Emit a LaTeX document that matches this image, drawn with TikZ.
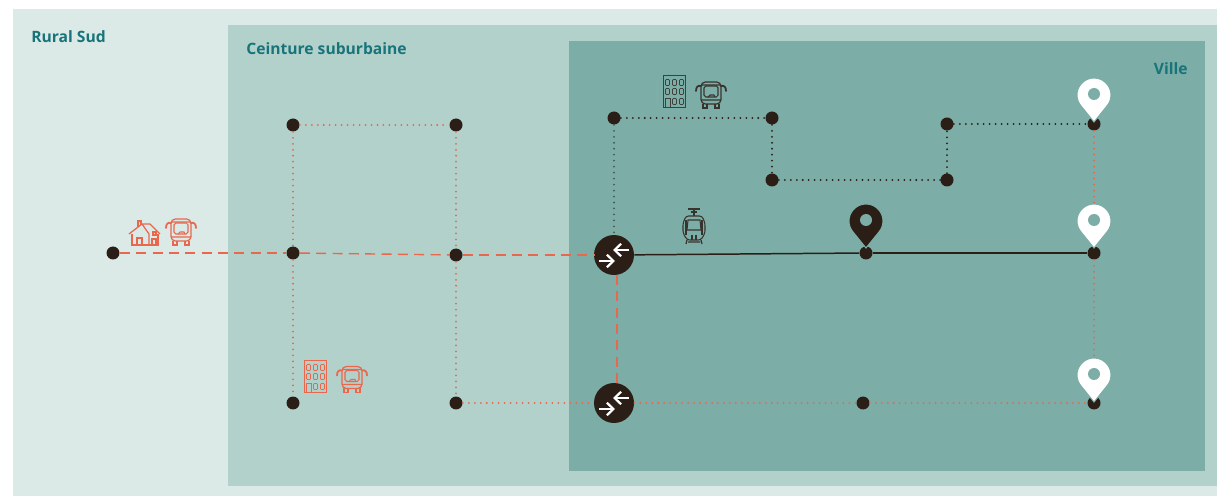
\documentclass[tikz,border=0pt]{standalone}
\usepackage{fontspec}
\setmainfont{Open Sans}
\usetikzlibrary{arrows.meta, positioning}
\definecolor{ruralbg}{HTML}{DBE9E7}
\definecolor{ceinturebg}{HTML}{B3D1CB}
\definecolor{villebg}{HTML}{7DADA7}
\definecolor{titlecol}{HTML}{17747A}
\definecolor{darkcol}{HTML}{2A1E17}
\definecolor{orangecol}{HTML}{E9674C}

\begin{document}
\begin{tikzpicture}[
    x=0.02cm, y=-0.02cm,
    dot/.style={circle, fill=darkcol, inner sep=0pt, minimum size=0.26cm},
    hub/.style={circle, fill=darkcol, inner sep=0pt, minimum size=0.8cm},
    zone/.style={font=\bfseries\fontsize{8.9}{10}\selectfont, text=titlecol, inner sep=0pt},
    dotline/.style={line width=1.15pt, line cap=round, dash pattern=on 0pt off 3.4pt},
    dashline/.style={orangecol, line width=0.8pt, dash pattern=on 5.7pt off 3.6pt},
    bus/.pic={
        \draw[line width=0.7pt, rounded corners=2.5pt] (-10,-13) rectangle (10,9);
        \draw[line width=0.6pt, rounded corners=1pt] (-7,-9) rectangle (7,2);
        \draw[line width=0.6pt] (-10,-10) -- (10,-10) (-10,5) -- (10,5) (-3,2) -- (-1,0) -- (3,0) -- (4,2);
        \draw[line width=1pt, line cap=round] (-10,-9) .. controls (-13,-10) and (-15,-8) .. (-15,-4)
            (10,-9) .. controls (13,-10) and (15,-8) .. (15,-4);
        \draw[line width=0.7pt] (-8,9) -- (-8,13) -- (-4,13) -- (-4,9) (8,9) -- (8,13) -- (4,13) -- (4,9);
    },
    block/.pic={
        \draw[line width=0.8pt] (-11,-16) rectangle (11,16);
        \foreach \i in {-7,0,7} \foreach \j in {-9,0} {
            \draw[line width=0.45pt, rounded corners=0.5pt] (\i-2,\j-3) rectangle (\i+2,\j+3);
        }
        \draw[line width=0.45pt] (-9,16) -- (-9,7) -- (-4,7) -- (-4,16);
        \draw[line width=0.45pt, rounded corners=0.5pt] (-2,7) rectangle (2,13) (5,7) rectangle (9,13);
    },
    home/.pic={
        \draw[line width=0.7pt] (-13,1) -- (-13,12) -- (13,12) -- (13,1);
        \draw[line width=0.7pt] (-16,1) -- (-3,-9) -- (5,-9) -- (15,1) (-3,-9) -- (4,1) -- (4,12);
        \draw[line width=0.7pt] (-7,-6) -- (-7,-12) -- (-4,-12) -- (-4,-8);
        \draw[line width=0.7pt] (-8,12) -- (-8,5) -- (-3,5) -- (-3,12);
        \draw[line width=0.7pt] (7,12) -- (7,6) -- (11,6) -- (11,12) (8,-1) rectangle (11,2);
    },
    tram/.pic={
        \draw[line width=0.6pt, rounded corners=1.5pt] (-8,-11) -- (8,-11) -- (11,-4) -- (11,6) -- (7,13) -- (-7,13) -- (-11,6) -- (-11,-4) -- cycle;
        \draw[line width=0.6pt] (-6,-7) -- (6,-7) -- (7,3) -- (-7,3) -- cycle;
        \draw[line width=0.6pt] (-8,-7) -- (-8,8) (8,-7) -- (8,8) (-2,8) -- (-2,13) (2,8) -- (2,13);
        \draw[line width=0.8pt] (-6,-18) -- (6,-18) (-3,-15) -- (3,-15) (0,-18) -- (0,-11);
        \draw[line width=0.7pt] (-7,13) -- (-8,17) (7,13) -- (8,17) (-6,15) -- (6,15);
    },
    pin/.pic={
        \path[fill=#1, draw=villebg, line width=0.6pt] (0,0) -- (13.2,-16.3) arc[start angle=39, end angle=-219, radius=17] -- cycle;
        \fill[villebg] (0,-28) circle[radius=6];
    },
    swap/.pic={
        \draw[white, line width=1.25pt, -{Straight Barb[length=1.3mm, width=2.5mm]}] (15,-5) -- (-1,-5);
        \draw[white, line width=1.25pt, -{Straight Barb[length=1.3mm, width=2.5mm]}] (-15,6) -- (1,6);
    }
]
\useasboundingbox (0,0) rectangle (1217,496);

% Zones
\fill[ruralbg] (13,9) rectangle (1217,496);
\fill[ceinturebg] (228,25) rectangle (1217,486);
\fill[villebg] (569,41) rectangle (1205,471);

\node[zone, anchor=west] (rural) at (31,37) {Rural Sud};
\node[zone, anchor=west] (ceinture) at (246,49) {Ceinture suburbaine};
\node[zone, anchor=east] (ville) at (1188,69) {Ville};

% Stops
\node[dot] (start) at (113,253) {};
\node[dot] (a1) at (293,125) {};
\node[dot] (a2) at (293,253) {};
\node[dot] (a3) at (293,403) {};
\node[dot] (b1) at (456,125) {};
\node[dot] (b2) at (456,255) {};
\node[dot] (b3) at (456,403) {};
\node[dot] (c1) at (614,118) {};
\node[dot] (c2) at (772,118) {};
\node[dot] (c3) at (772,180) {};
\node[dot] (c4) at (947,180) {};
\node[dot] (c5) at (947,124) {};
\node[dot] (mid) at (866,253) {};
\node[dot] (low) at (863,403) {};
\node[dot] (d1) at (1094,124) {};
\node[dot] (d2) at (1094,253) {};
\node[dot] (d3) at (1094,403) {};

% Interchanges
\node[hub] (hub1) at (614,255) {};
\node[hub] (hub2) at (614,403) {};
\coordinate (hub1s) at (617,275);
\coordinate (hub2n) at (617,383);
\pic at (hub1) {swap};
\pic at (hub2) {swap};

% Orange dotted lines
\draw[dotline, orangecol] (a1) -- (b1);
\draw[dotline, orangecol] (a1) -- (a2);
\draw[dotline, orangecol] (a2) -- (a3);
\draw[dotline, orangecol] (b1) -- (b2);
\draw[dotline, orangecol] (b2) -- (b3);
\draw[dotline, orangecol] (b3) -- (hub2);
\draw[dotline, orangecol] (hub2) -- (low);
\draw[dotline, orangecol] (low) -- (d3);
\draw[dotline, orangecol] (d1) -- (d2);
\draw[dotline, orangecol] (d2) -- (d3);

% Dark dotted lines
\draw[dotline, darkcol] (c1) -- (c2);
\draw[dotline, darkcol] (c2) -- (c3);
\draw[dotline, darkcol] (c3) -- (c4);
\draw[dotline, darkcol] (c4) -- (c5);
\draw[dotline, darkcol] (c5) -- (d1);
\draw[dotline, darkcol!60!villebg] (c1) -- (hub1);

% Main lines
\draw[dashline] (start) -- (a2);
\draw[dashline] (a2) -- (b2);
\draw[dashline] (b2) -- (hub1);
\draw[dashline] (hub1s) -- (hub2n);
\draw[darkcol, line width=0.85pt] (hub1) -- (mid);
\draw[darkcol, line width=0.85pt] (mid) -- (d2);

% Pins
\pic at (1094,122) {pin=white};
\pic at (1094,248) {pin=white};
\pic at (1094,402) {pin=white};
\pic at (866,248) {pin=darkcol};

% Icons
\pic[orangecol] at (145,233) {home};
\pic[orangecol] at (181,232) {bus};
\pic[orangecol] at (315.5,376.5) {block};
\pic[orangecol] at (352,379.5) {bus};
\pic[darkcol!75!villebg] at (674.5,91.5) {block};
\pic[darkcol!85!villebg] at (711,95) {bus};
\pic[darkcol!85!villebg] at (694,227) {tram};

\end{tikzpicture}
\end{document}
